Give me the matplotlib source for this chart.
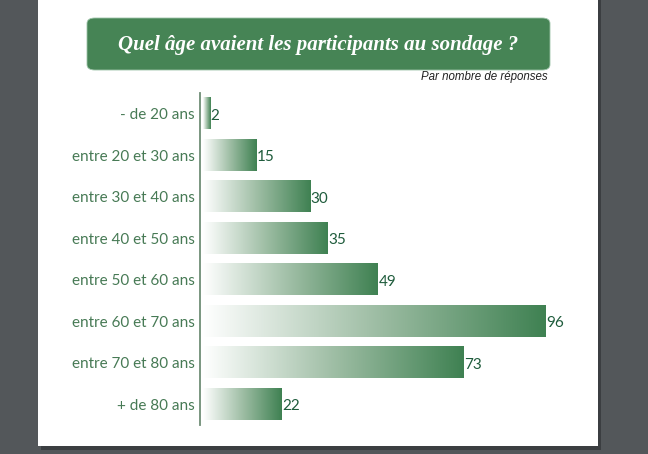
import numpy as np
import matplotlib
matplotlib.use("Agg")
import matplotlib.pyplot as plt
from matplotlib.patches import Rectangle, FancyBboxPatch
from matplotlib.colors import LinearSegmentedColormap

categories = ["- de 20 ans", "entre 20 et 30 ans", "entre 30 et 40 ans", "entre 40 et 50 ans",
              "entre 50 et 60 ans", "entre 60 et 70 ans", "entre 70 et 80 ans", "+ de 80 ans"]
values = [2, 15, 30, 35, 49, 96, 73, 22]
title = "Quel âge avaient les participants au sondage ?"
subtitle = "Par nombre de réponses"

W, H = 648, 454
fig = plt.figure(figsize=(W / 100, H / 100), dpi=100)
fig.patch.set_facecolor("#53575a")

def fx(px):
    return px / W

def fy(py):
    return 1 - py / H

# page shadow and page
fig.patches.append(Rectangle((fx(41), fy(450)), fx(560), 450 / H, transform=fig.transFigure,
                             facecolor="#3b3e41", edgecolor="none", zorder=0))
fig.patches.append(Rectangle((fx(38), fy(446)), fx(560), 446 / H + 0.01, transform=fig.transFigure,
                             facecolor="white", edgecolor="none", zorder=1))

# title box
fig.patches.append(FancyBboxPatch((fx(87), fy(70)), fx(463), 52 / H,
                                  boxstyle="round,pad=0,rounding_size=0.012",
                                  transform=fig.transFigure, facecolor="#468455",
                                  edgecolor="#9cc3a8", linewidth=0.6, zorder=2))
fig.text(fx(318), fy(45), title, color="white", fontsize=15, fontweight="bold",
         fontstyle="italic", family="Liberation Serif", ha="center", va="center", zorder=3)
fig.text(fx(548), fy(77), subtitle, color="#222222", fontsize=8.3, fontstyle="italic",
         family="Liberation Sans", ha="right", va="center", zorder=3)

ax = fig.add_axes([fx(200), (H - 425) / H, fx(360), 332 / H])
ax.set_facecolor("none")
ax.set_zorder(5)

cmap = LinearSegmentedColormap.from_list("g", ["#ffffff", "#9fbea5", "#3f8152"])
grad = np.linspace(0, 1, 256).reshape(1, -1)
bh = 0.75
for i, v in enumerate(values):
    ax.imshow(grad, cmap=cmap, aspect="auto", extent=[0, v, i + bh / 2, i - bh / 2],
              interpolation="bilinear", zorder=2)
    ax.text(v + 0.15, i + 0.05, str(v), color="#1f5c3c", fontsize=11, family="Lato",
            ha="left", va="center")

ax.set_xlim(-0.85, 100)
ax.set_ylim(len(values) - 0.5, -0.5)
ax.set_yticks(range(len(categories)))
ax.set_yticklabels(categories, color="#477a55", fontsize=11, family="Lato")
ax.tick_params(axis="y", length=0, pad=4)
ax.set_xticks([])
for s in ["top", "right", "bottom"]:
    ax.spines[s].set_visible(False)
ax.spines["left"].set_color("#6f8d76")
ax.spines["left"].set_linewidth(1.3)

fig.savefig("out.png", dpi=100, facecolor=fig.get_facecolor())
